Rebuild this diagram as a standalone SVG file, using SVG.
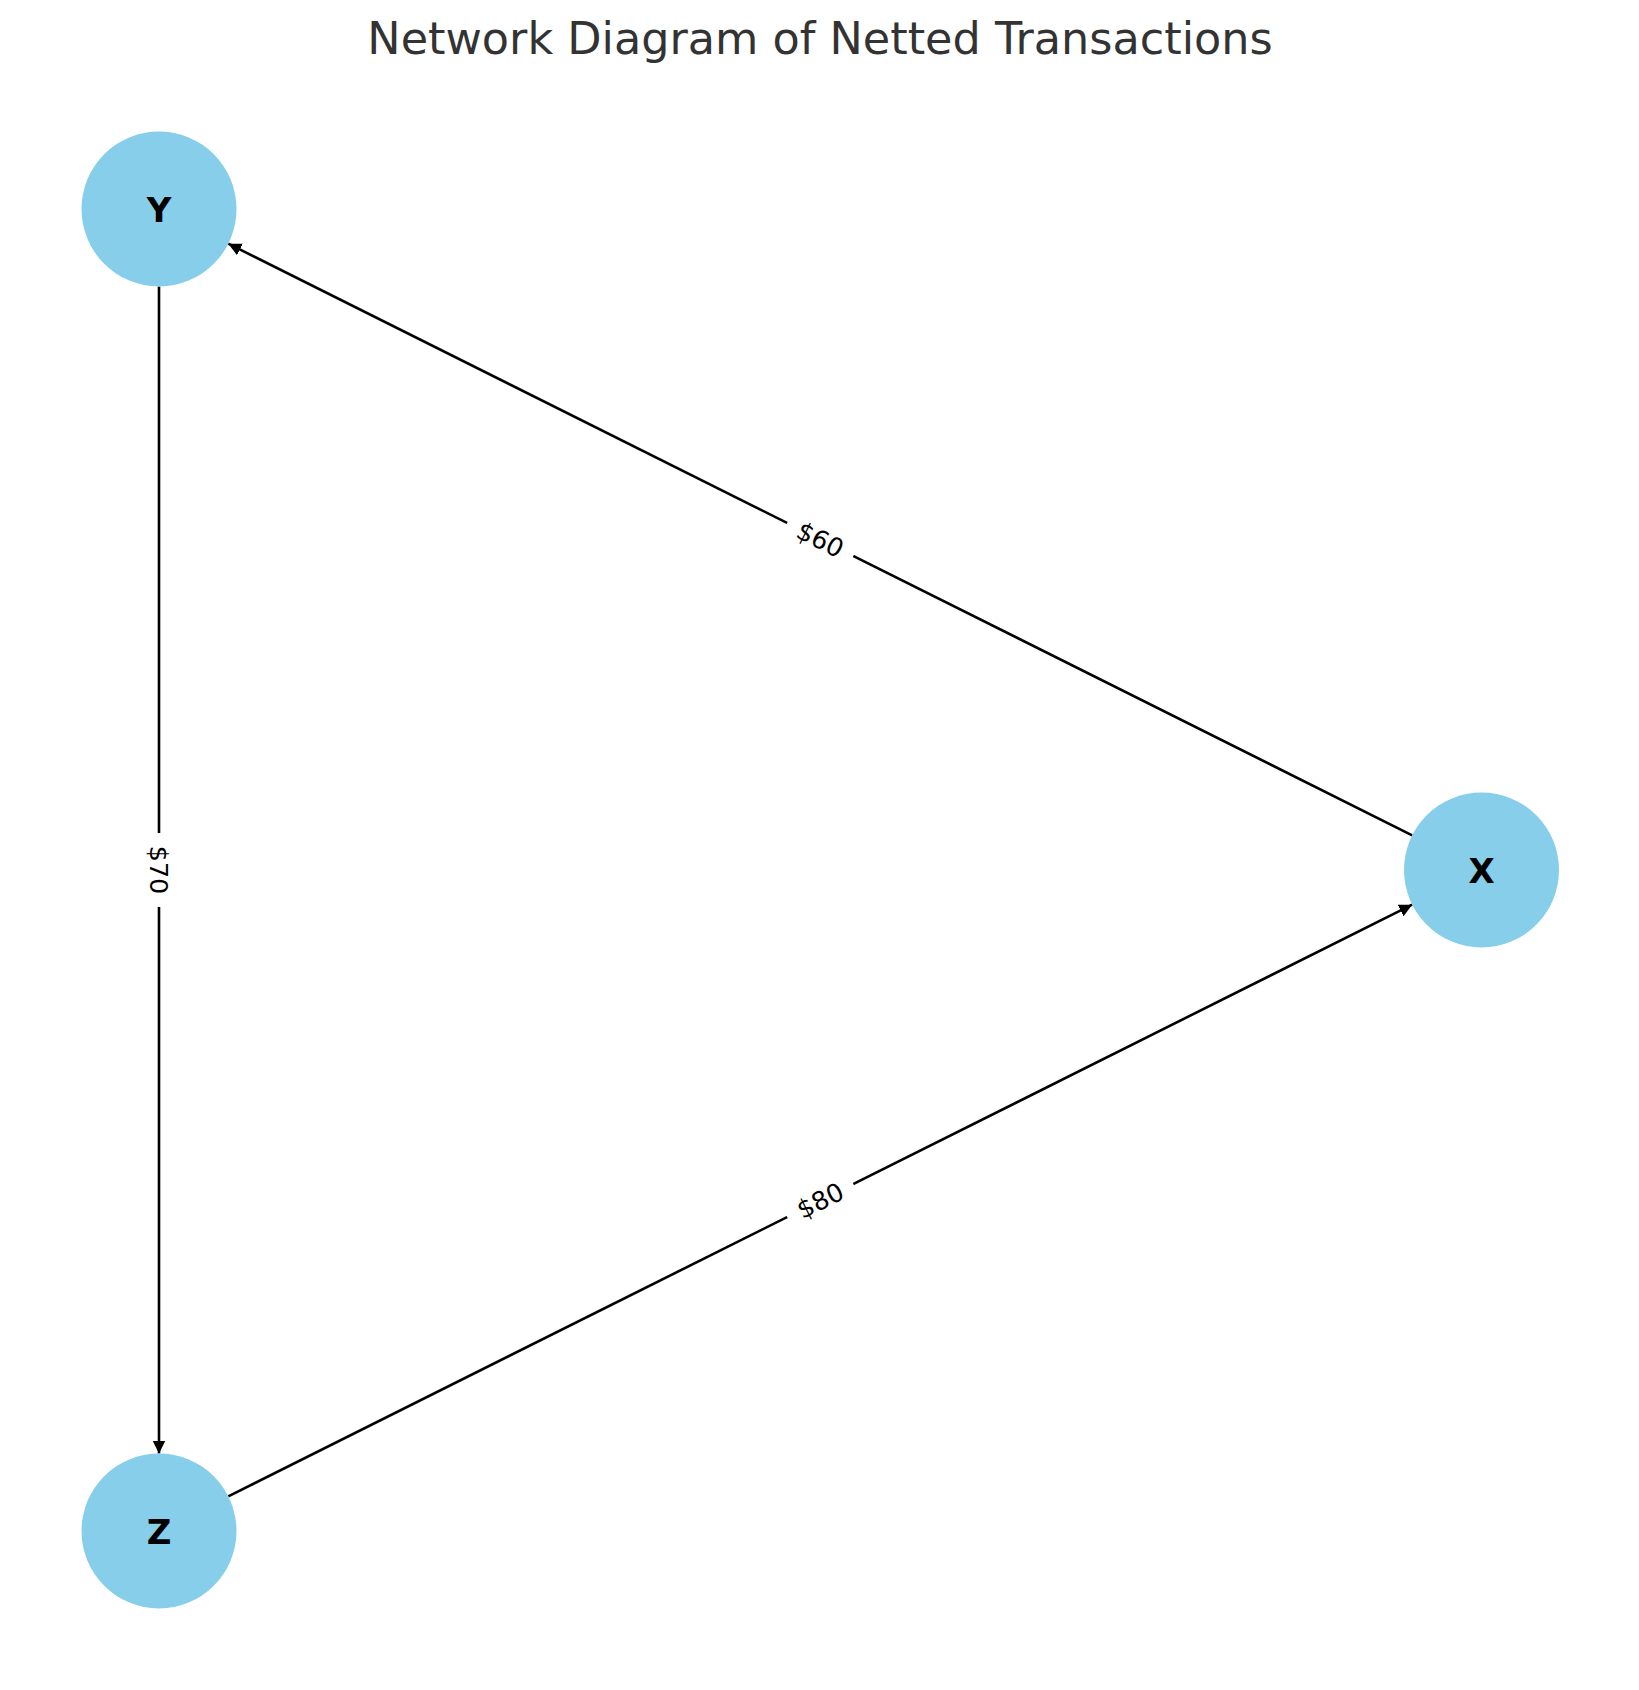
<svg xmlns="http://www.w3.org/2000/svg" width="1639" height="1690" viewBox="0 0 1639 1690">
<defs>
<marker id="arrow" viewBox="0 0 10 10" refX="10" refY="5" markerWidth="13" markerHeight="14" markerUnits="userSpaceOnUse" orient="auto">
<path d="M0,0 L10,5 L0,10 z" fill="#000"/>
</marker>
<style>
.edge{stroke:#000;stroke-width:2.6;fill:none;marker-end:url(#arrow)}
.node{fill:#87CEEB}
.nlabel{font-family:"DejaVu Sans",sans-serif;font-weight:bold;font-size:34px;fill:#000;text-anchor:middle}
.elabel{font-family:"DejaVu Sans",sans-serif;font-size:25.5px;fill:#000;text-anchor:middle}
.lbox{fill:#fff}
.title{font-family:"DejaVu Sans",sans-serif;font-size:44.5px;fill:#333;text-anchor:middle}
</style>
</defs>
<rect width="1639" height="1690" fill="#fff"/>
<text class="title" x="820" y="53.5">Network Diagram of Netted Transactions</text>
<g id="connectors">
<line class="edge" x1="159" y1="286.5" x2="159" y2="1453.5"/>
<line class="edge" x1="1412.2" y1="835.3" x2="228.3" y2="243.7"/>
<line class="edge" x1="228.3" y1="1496.3" x2="1412.2" y2="904.7"/>
<g transform="translate(159,870) rotate(90)">
<rect class="lbox" x="-37" y="-17" width="74" height="34"/>
<text class="elabel" x="0" y="9">$70</text>
</g>
<g transform="translate(820.25,539.5) rotate(26.57)">
<rect class="lbox" x="-37" y="-17" width="74" height="34"/>
<text class="elabel" x="0" y="9">$60</text>
</g>
<g transform="translate(820.25,1200.5) rotate(-26.57)">
<rect class="lbox" x="-37" y="-17" width="74" height="34"/>
<text class="elabel" x="0" y="9">$80</text>
</g>
</g>
<g id="node-Y">
<circle class="node" cx="159" cy="209" r="77.5"/>
<text class="nlabel" x="159" y="221.5">Y</text>
</g>
<g id="node-X">
<circle class="node" cx="1481.5" cy="870" r="77.5"/>
<text class="nlabel" x="1481.5" y="882.5">X</text>
</g>
<g id="node-Z">
<circle class="node" cx="159" cy="1531" r="77.5"/>
<text class="nlabel" x="159" y="1543.5">Z</text>
</g>
</svg>
